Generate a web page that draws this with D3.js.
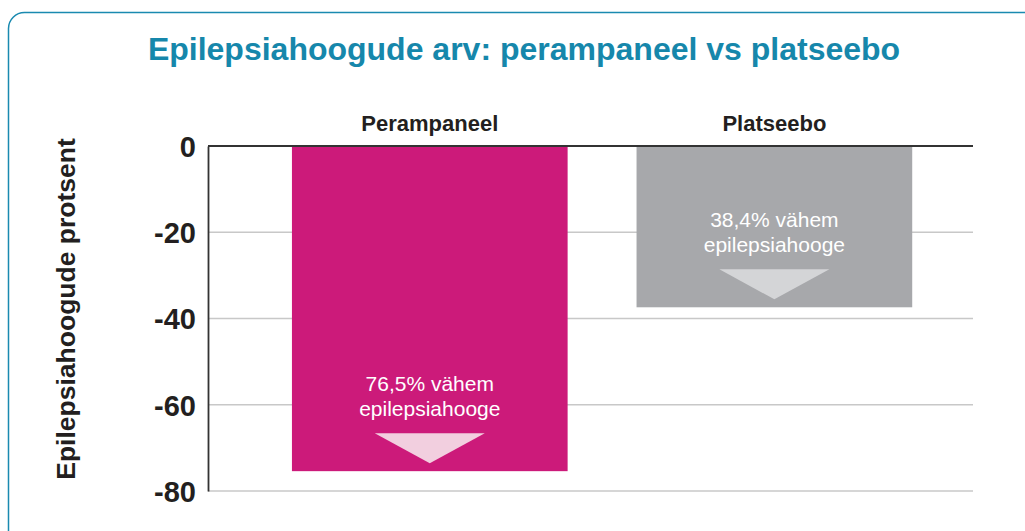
<!DOCTYPE html>
<html>
<head>
<meta charset="utf-8">
<script src="https://cdn.jsdelivr.net/npm/d3@7"></script>
<style>
  body { margin: 0; background: #fff; }
  svg { display: block; font-family: "Liberation Sans", Arial, sans-serif; }
</style>
</head>
<body>
<svg id="chart"></svg>
<script>
// data
const categories = ["Perampaneel", "Platseebo"];
const values = [-75.4, -37.4];
const labelLines = [["76,5% vähem", "epilepsiahooge"], ["38,4% vähem", "epilepsiahooge"]];
const yTicks = [0, -20, -40, -60, -80];
const colors = ["#cc1a7a", "#a7a8ab"];
const arrowColors = ["#f2cfdf", "#d4d5d7"];

const W = 1025, H = 531;
const margin = { top: 146, right: 52, bottom: 40, left: 208 };
const plotRight = 973;

const svg = d3.select("#chart").attr("width", W).attr("height", H);

// frame
svg.append("rect")
    .attr("x", 8.5).attr("y", 12.5)
    .attr("width", 1040).attr("height", 540)
    .attr("rx", 16)
    .attr("fill", "none")
    .attr("stroke", "#1a8ab0")
    .attr("stroke-width", 1.5);

// title
svg.append("text")
    .attr("x", 524).attr("y", 60)
    .attr("text-anchor", "middle")
    .attr("fill", "#1687ab")
    .attr("font-size", 32)
    .attr("font-weight", "bold")
    .text("Epilepsiahoogude arv: perampaneel vs platseebo");

const y = d3.scaleLinear().domain([0, -80]).range([146, 491]);
const x = d3.scaleBand().domain(categories)
    .range([margin.left, plotRight])
    .paddingInner(0.2).paddingOuter(0.21).align(0.58);

const g = svg.append("g");

// grid lines
g.selectAll("line.grid")
    .data(yTicks.filter(d => d !== 0))
    .join("line")
    .attr("class", "grid")
    .attr("x1", margin.left).attr("x2", plotRight)
    .attr("y1", d => y(d)).attr("y2", d => y(d))
    .attr("stroke", "#c8c8c8")
    .attr("stroke-width", 1.3);

// bars
g.selectAll("rect.bar")
    .data(categories)
    .join("rect")
    .attr("class", "bar")
    .attr("x", d => x(d))
    .attr("width", x.bandwidth())
    .attr("y", y(0))
    .attr("height", (d, i) => y(values[i]) - y(0))
    .attr("fill", (d, i) => colors[i]);

// arrows
g.selectAll("path.arrow")
    .data(categories)
    .join("path")
    .attr("class", "arrow")
    .attr("fill", (d, i) => arrowColors[i])
    .attr("d", (d, i) => {
        const cx = x(d) + x.bandwidth() / 2;
        const yb = y(values[i]);
        return `M${cx - 55},${yb - 38} L${cx + 55},${yb - 38} L${cx},${yb - 8} Z`;
    });

// annotation text
categories.forEach((c, i) => {
    const cx = x(c) + x.bandwidth() / 2;
    const yb = y(values[i]);
    const t = g.append("text")
        .attr("text-anchor", "middle")
        .attr("fill", "#fff")
        .attr("font-size", 21);
    labelLines[i].forEach((line, k) => {
        t.append("tspan").attr("x", cx).attr("y", yb - 80 + k * 25).text(line);
    });
});

// zero line
g.append("line")
    .attr("x1", margin.left).attr("x2", plotRight)
    .attr("y1", y(0)).attr("y2", y(0))
    .attr("stroke", "#333")
    .attr("stroke-width", 1.8);

// y axis
const yAxis = svg.append("g")
    .attr("transform", `translate(${margin.left},0)`)
    .call(d3.axisLeft(y).tickValues(yTicks).tickSize(0).tickPadding(12));
yAxis.select(".domain").attr("stroke", "#333").attr("stroke-width", 1.8);
yAxis.selectAll(".tick text")
    .attr("font-size", 29)
    .attr("font-weight", "bold")
    .attr("fill", "#231f20")
    .attr("font-family", "Liberation Sans, Arial, sans-serif")
    .attr("dy", "0.36em")
    .text(d => d === 0 ? "0" : "-" + Math.abs(d));

// category labels
svg.selectAll("text.cat")
    .data(categories)
    .join("text")
    .attr("class", "cat")
    .attr("x", d => x(d) + x.bandwidth() / 2)
    .attr("y", 131)
    .attr("text-anchor", "middle")
    .attr("font-size", 22)
    .attr("font-weight", "bold")
    .attr("fill", "#231f20")
    .text(d => d);

// y axis label
svg.append("text")
    .attr("transform", "translate(75,309) rotate(-90)")
    .attr("text-anchor", "middle")
    .attr("font-size", 26.5)
    .attr("font-weight", "bold")
    .attr("fill", "#231f20")
    .text("Epilepsiahoogude protsent");
</script>
</body>
</html>
